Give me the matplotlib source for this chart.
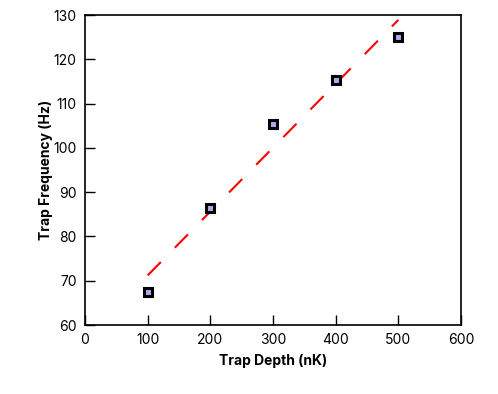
import matplotlib
matplotlib.use("Agg")
import matplotlib.pyplot as plt

depth = [100, 200, 300, 400, 500]
freq = [67.4, 86.4, 105.5, 115.3, 125.0]
fit_x = [100, 500]
fit_y = [71.2, 128.9]

plt.rcParams['font.family'] = ['Inter', 'DejaVu Sans']
fig = plt.figure(figsize=(4.98, 3.94), dpi=100)
ax = fig.add_axes([0.1707, 0.1751, 0.7550, 0.7868])

ax.plot(fit_x, fit_y, color='#ff0000', lw=1.5, dashes=(9, 9.6), zorder=2)
ax.plot(depth, freq, linestyle='none', marker='s', markersize=5.2,
        markerfacecolor='#aaaaee', markeredgecolor='black', markeredgewidth=2.2, zorder=3)

ax.set_xlim(0, 600)
ax.set_ylim(60, 130)
ax.set_xticks(range(0, 601, 100))
ax.set_yticks(range(60, 131, 10))
ax.tick_params(direction='in', length=7, width=1, labelsize=10, pad=6,
               top=False, right=False)
for s in ax.spines.values():
    s.set_linewidth(1.2)
ax.set_xlabel('Trap Depth (nK)', fontsize=10, fontweight='bold', labelpad=5)
ax.set_ylabel('Trap Frequency (Hz)', fontsize=10, fontweight='bold', labelpad=0)

fig.savefig('out.png', dpi=100)
